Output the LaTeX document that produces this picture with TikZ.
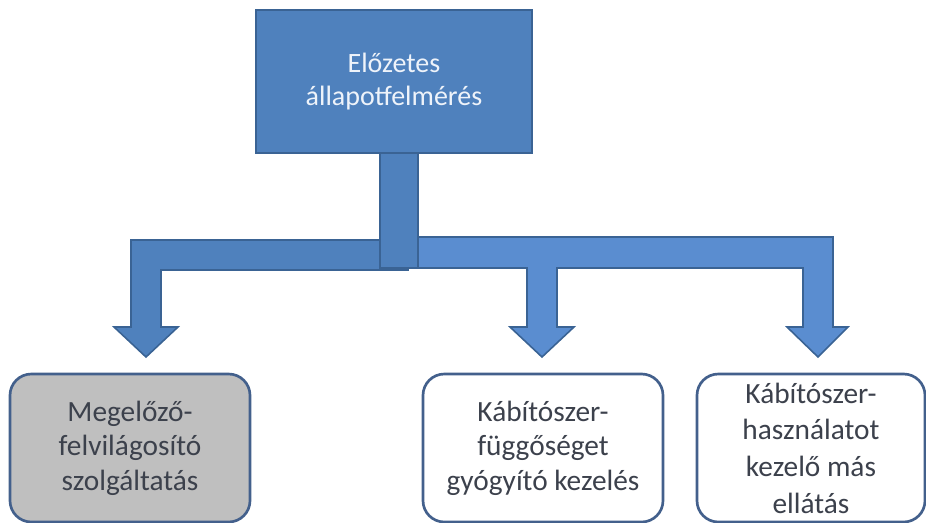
\documentclass[tikz,border=0pt]{standalone}
\usepackage{fontspec}
\setmainfont{Carlito}
\usepackage{xcolor}
\definecolor{boxblue}{HTML}{4F81BD}
\definecolor{barblue}{HTML}{5A8DD0}
\definecolor{edgeblue}{HTML}{3A6394}
\definecolor{frameblue}{HTML}{43608C}
\definecolor{textgray}{HTML}{3C414C}
\definecolor{fillgray}{HTML}{BFBFBF}
\definecolor{textwhite}{HTML}{EEF3FA}

\begin{document}
\begin{tikzpicture}[x=0.75pt,y=0.75pt,yscale=-1,xscale=1,
  headbox/.style={draw=edgeblue,line width=1.5pt,fill=boxblue,text=textwhite,minimum width=207pt,minimum height=107pt,align=center,font=\fontsize{21}{25}\selectfont},
  leafbox/.style={draw=frameblue,line width=2pt,rounded corners=16pt,minimum height=111pt,align=center,text=textgray,font=\fontsize{22}{26}\selectfont},
  blockarrow/.style={draw=edgeblue,line width=1.2pt,fill=boxblue}]
\useasboundingbox (0,0) rectangle (926,522);

% Top box
\node (pre) [headbox] at (394,81.5) {Előzetes\\állapotfelmérés};

% Bottom boxes
\node (prev) [leafbox,fill=fillgray,minimum width=180pt] at (130,448) {Megelőző-\\felvilágosító\\szolgáltatás};
\node (cure) [leafbox,fill=white,minimum width=180pt] at (543,448) {Kábítószer-\\függőséget\\gyógyító kezelés};
\node (care) [leafbox,fill=white,minimum width=171pt,font=\fontsize{22}{27.5}\selectfont] at (811,448) {Kábítószer-\\használatot\\kezelő más\\ellátás};

%Shape: Right bar with two arrows
\draw [blockarrow,fill=barblue] (380,237) -- (833,237) -- (833,327) -- (848,327) -- (818,357) -- (787,327) -- (803,327) -- (803,268) -- (557,268) -- (557,327) -- (574,327) -- (542,357) -- (510,327) -- (527,327) -- (527,268) -- (380,268) -- cycle ;
%Shape: Left bar with arrow
\draw [blockarrow] (408,240) -- (131,240) -- (131,327) -- (114,327) -- (146,357) -- (178,327) -- (161,327) -- (161,270) -- (408,270) -- cycle ;
%Shape: Stem
\draw [blockarrow] (380,153) -- (418,153) -- (418,268) -- (380,268) -- cycle ;

\end{tikzpicture}
\end{document}
